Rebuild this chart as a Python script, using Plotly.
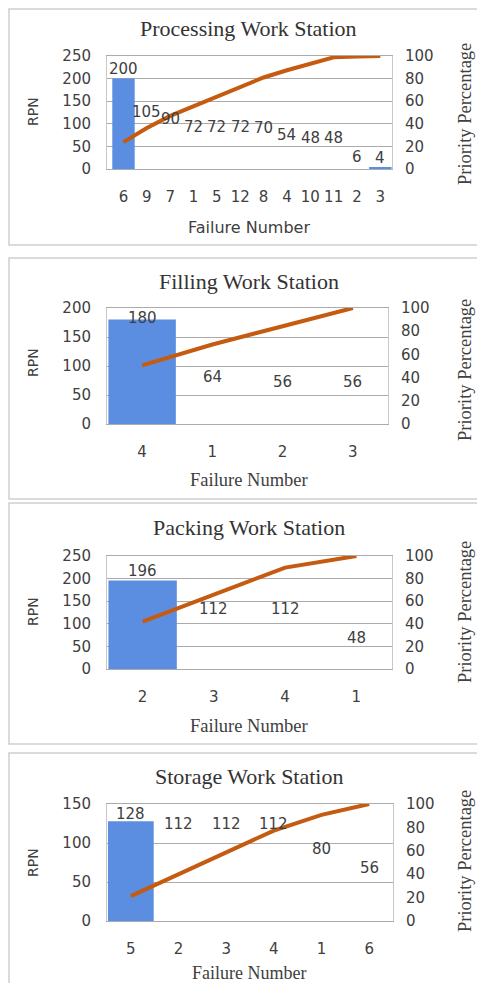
import plotly.graph_objects as go

# ---------------- data ----------------
titles = ["Processing Work Station", "Filling Work Station",
          "Packing Work Station", "Storage Work Station"]

proc_fail = ["6", "9", "7", "1", "5", "12", "8", "4", "10", "11", "2", "3"]
proc_rpn = [200, 105, 90, 72, 72, 72, 70, 54, 48, 48, 6, 4]
proc_pct = [23.8, 36.3, 47.0, 55.5, 64.1, 72.7, 81.0, 87.4, 93.1, 98.8, 99.5, 100.0]

fill_fail = ["4", "1", "2", "3"]
fill_rpn = [180, 64, 56, 56]
fill_pct = [50.6, 68.5, 84.3, 100.0]

pack_fail = ["2", "3", "4", "1"]
pack_rpn = [196, 112, 112, 48]
pack_pct = [41.9, 65.8, 89.7, 100.0]

stor_fail = ["5", "2", "3", "4", "1", "6"]
stor_rpn = [128, 112, 112, 112, 80, 56]
stor_pct = [21.3, 40.0, 58.7, 77.3, 90.7, 100.0]

rpn_max = [250, 200, 250, 150]
rpn_step = [50, 50, 50, 50]

# ---------------- layout (window pixels) ----------------
OFF = 8                      # page body margin
W, H = 485 - 2 * OFF, 991 - 2 * OFF
fails = [proc_fail, fill_fail, pack_fail, stor_fail]
rpns = [proc_rpn, fill_rpn, pack_rpn, stor_rpn]
pcts = [proc_pct, fill_pct, pack_pct, stor_pct]
shown_bars = [[0, 11], [0], [0], [0]]

plot_x = [(107, 392), (107, 388), (107, 392), (107, 393)]
plot_y = [(56, 169), (308, 424), (556, 669), (804, 921)]
title_y = [28, 281, 527, 776]
rpn_y = [112, 363, 612, 863]
pp_y = [114, 370, 612, 861]
fn_y = [227, 480, 726, 973]
fn_font = ["DejaVu Sans", "Liberation Serif", "Liberation Serif", "Liberation Serif"]
fn_size = [16, 18.5, 18.5, 18]
boxes = [(9, 245), (258, 499), (503, 744), (753, 1010)]

BLUE = "#5B8EE1"
ORANGE = "#C55A11"
GRID = "#ABABAB"
TICK = "#404040"


def px(x):
    return (x - OFF) / W


def py(y):
    return 1 - (y - OFF) / H


fig = go.Figure()
annotations = []
shapes = []

for i in range(4):
    n = i + 1
    xa = f"x{n}" if n > 1 else "x"
    ya = f"y{n}" if n > 1 else "y"
    yr = f"y{n + 4}"
    colors = [BLUE if k in shown_bars[i] else "rgba(0,0,0,0)" for k in range(len(fails[i]))]
    fig.add_trace(go.Bar(x=fails[i], y=rpns[i], marker=dict(color=colors, line=dict(width=0)),
                         xaxis=xa, yaxis=ya, showlegend=False, hoverinfo="x+y"))
    fig.add_trace(go.Scatter(x=fails[i], y=pcts[i], mode="lines",
                             line=dict(color=ORANGE, width=4), xaxis=xa, yaxis=yr,
                             showlegend=False))

    x0, x1 = plot_x[i]
    y0, y1 = plot_y[i]
    sfx = str(n) if n > 1 else ""
    fig.update_layout(**{
        f"xaxis{sfx}": dict(domain=[px(x0), px(x1)], anchor=ya, type="category",
                            showgrid=False, showline=True, linecolor=GRID, linewidth=1,
                            mirror=True, ticks="", ticklabelstandoff=14,
                            tickfont=dict(family="DejaVu Sans", size=15, color=TICK),
                            fixedrange=True),
        f"yaxis{sfx}": dict(domain=[py(y1), py(y0)], anchor=xa, range=[0, rpn_max[i]],
                            dtick=rpn_step[i], showgrid=True, gridcolor=GRID, gridwidth=1,
                            showline=True, linecolor="#C8C8C8", mirror=True, zeroline=False,
                            ticks="", ticklabelstandoff=12,
                            tickfont=dict(family="DejaVu Sans", size=15, color=TICK)),
        f"yaxis{n + 4}": dict(overlaying=ya, anchor=xa, side="right", range=[0, 100],
                              dtick=20, showgrid=False, showline=False, zeroline=False,
                              ticks="", ticklabelstandoff=12,
                              tickfont=dict(family="DejaVu Sans", size=15, color=TICK)),
    })

    # data labels (category index positions on the category axis)
    ppu = (y1 - y0) / rpn_max[i]
    for k, v in enumerate(rpns[i]):
        gap = (rpn_max[i] - v) * ppu
        shift = min(9.5, gap - 9.5)
        annotations.append(dict(x=k, y=v, xref=xa, yref=ya, text=str(v), showarrow=False,
                                yshift=shift, yanchor="middle",
                                font=dict(family="DejaVu Sans", size=15, color="#404040")))

    # texts
    annotations.append(dict(x=px(249), y=py(title_y[i]), xref="paper", yref="paper",
                            text=titles[i], showarrow=False, xanchor="center", yanchor="middle",
                            font=dict(family="Liberation Serif", size=22, color="#333333")))
    annotations.append(dict(x=px(33), y=py(rpn_y[i]), xref="paper", yref="paper",
                            text="RPN", textangle=-90, showarrow=False,
                            xanchor="center", yanchor="middle",
                            font=dict(family="DejaVu Sans", size=14, color="#404040")))
    annotations.append(dict(x=px(465), y=py(pp_y[i]), xref="paper", yref="paper",
                            text="Priority Percentage", textangle=-90, showarrow=False,
                            xanchor="center", yanchor="middle",
                            font=dict(family="Liberation Serif", size=18.5, color="#404040")))
    annotations.append(dict(x=px(249), y=py(fn_y[i]), xref="paper", yref="paper",
                            text="Failure Number", showarrow=False,
                            xanchor="center", yanchor="middle",
                            font=dict(family=fn_font[i], size=fn_size[i], color="#404040")))

    b0, b1 = boxes[i]
    shapes.append(dict(type="rect", xref="paper", yref="paper", x0=px(9), x1=px(500),
                       y0=py(b1), y1=py(b0), line=dict(color="#CFCFCF", width=1.5),
                       layer="below"))

fig.update_layout(width=W, height=H, margin=dict(l=0, r=0, t=0, b=0, autoexpand=False),
                  paper_bgcolor="white", plot_bgcolor="white", bargap=0.04,
                  annotations=annotations, shapes=shapes, showlegend=False)

fig.write_html("out.html")
